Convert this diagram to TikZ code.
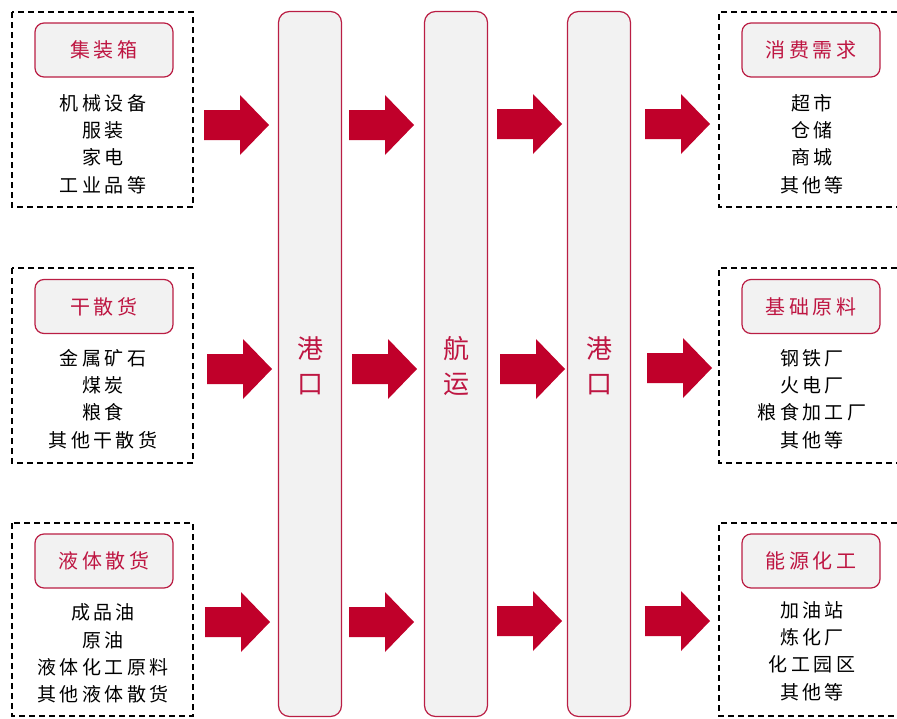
\documentclass[tikz,border=0pt]{standalone}
\usepackage{fontspec}
\newfontfamily\cjk[LetterSpace=18]{Noto Sans CJK SC}
\newfontfamily\cjkp{Noto Sans CJK SC}
\definecolor{arrowred}{RGB}{192,0,42}
\definecolor{framered}{RGB}{186,30,68}
\definecolor{textred}{RGB}{190,22,66}
\definecolor{boxgray}{RGB}{242,242,242}
\tikzset{
  dashbox/.style={draw=black,line width=1.4pt,dash pattern=on 6pt off 4pt},
  labelbox/.style={draw=framered,line width=1.2pt,fill=boxgray,rounded corners=9pt,
    minimum width=138pt,minimum height=54pt,inner sep=0pt,text=textred,
    font=\cjk\fontsize{20}{24}\selectfont},
  bodytext/.style={align=center,inner sep=0pt,text=black,
    font=\cjk\fontsize{19}{27.3}\selectfont},
  pillar/.style={draw=framered,line width=1.2pt,fill=boxgray,rounded corners=11pt,
    minimum width=63pt,minimum height=705pt,inner sep=0pt},
  pillartext/.style={align=center,inner sep=0pt,text=textred,
    font=\cjkp\fontsize{26}{35}\selectfont},
  blockarrow/.pic={\fill[arrowred] (0,-15) -- (36,-15) -- (36,-30) -- (65,0) -- (36,30) -- (36,15) -- (0,15) -- cycle;}
}
\begin{document}
\begin{tikzpicture}[x=1pt,y=-1pt]
\useasboundingbox (0,0) rectangle (897,718);
% pillars
\node[pillar] (p1) at (310,364) {};
\node[pillar] (p2) at (456,364) {};
\node[pillar] (p3) at (599,364) {};
\node[pillartext] (t1) at (310,366) {港\\口};
\node[pillartext] (t2) at (456,366) {航\\运};
\node[pillartext] (t3) at (599,366) {港\\口};
% left dashed boxes
\draw[dashbox] (12,12) rectangle (193,207);
\draw[dashbox] (12,268) rectangle (193,463);
\draw[dashbox] (12,523) rectangle (193,716);
% right dashed boxes (open to the right edge)
\draw[dashbox] (897,12) -- (719,12) -- (719,207) -- (897,207);
\draw[dashbox] (897,268) -- (719,268) -- (719,463) -- (897,463);
\draw[dashbox] (897,523) -- (719,523) -- (719,716) -- (897,716);
% labels
\node[labelbox] (l1) at (104,50) {集装箱};
\node[labelbox] (l2) at (104,306.5) {干散货};
\node[labelbox] (l3) at (104,561) {液体散货};
\node[labelbox] (r1) at (811,50) {消费需求};
\node[labelbox] (r2) at (811,306.5) {基础原料};
\node[labelbox] (r3) at (811,561) {能源化工};
% body texts
\node[bodytext] (b1) at (103,144) {机械设备\\服装\\家电\\工业品等};
\node[bodytext] (b2) at (103,399) {金属矿石\\煤炭\\粮食\\其他干散货};
\node[bodytext] (b3) at (103,653.5) {成品油\\原油\\液体化工原料\\其他液体散货};
\node[bodytext] (c1) at (812,144) {超市\\仓储\\商城\\其他等};
\node[bodytext] (c2) at (812,399) {钢铁厂\\火电厂\\粮食加工厂\\其他等};
\node[bodytext] (c3) at (812,651) {加油站\\炼化厂\\化工园区\\其他等};
% arrows
\pic (a11) at (204,125) {blockarrow};
\pic (a12) at (349,125) {blockarrow};
\pic (a13) at (497,124) {blockarrow};
\pic (a14) at (645,124) {blockarrow};
\pic (a21) at (207,369) {blockarrow};
\pic (a22) at (352,369) {blockarrow};
\pic (a23) at (500,369) {blockarrow};
\pic (a24) at (647,368) {blockarrow};
\pic (a31) at (205,622) {blockarrow};
\pic (a32) at (349,622) {blockarrow};
\pic (a33) at (497,621) {blockarrow};
\pic (a34) at (645,621) {blockarrow};
\end{tikzpicture}
\end{document}
